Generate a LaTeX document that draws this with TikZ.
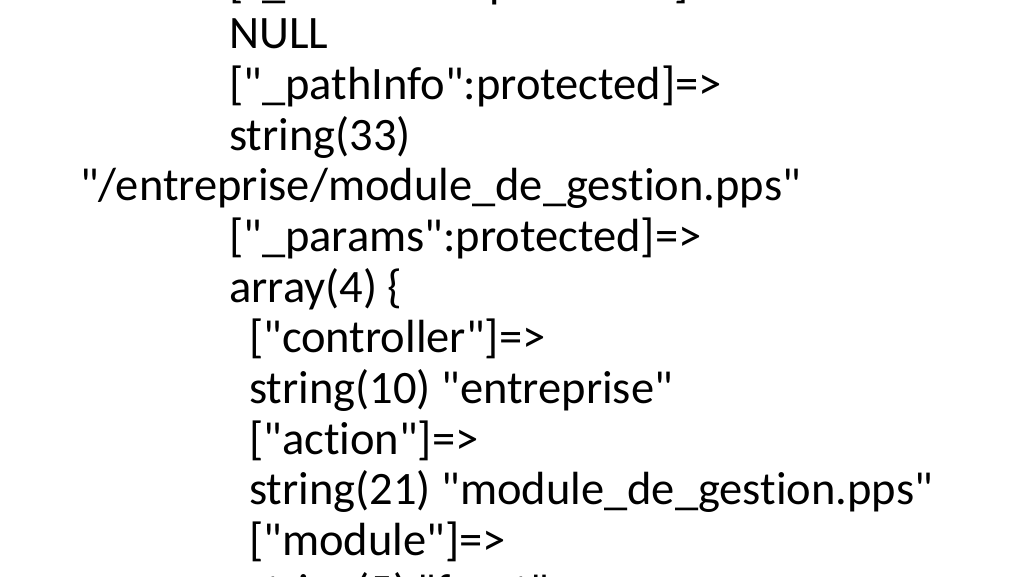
\documentclass[tikz,border=0pt]{standalone}
\usepackage{fontspec}
\setmainfont{Carlito}[Ligatures={TeXOff,NoCommon}]
\usepackage{tikz}
\usetikzlibrary{positioning}
\tikzset{%
	codeline/.style = {anchor=base west, inner sep=0pt, font=\fontsize{46.5}{50}\selectfont}, % one dump line
}

\begin{document}
\begin{tikzpicture}[x=1pt,y=1pt]
	\useasboundingbox (0,0) rectangle (1024,-576);
	\clip (0,0) rectangle (1024,-576);
	\fill[white] (0,0) rectangle (1024,-576);
	\node [codeline] (basepath) at (229,3) {["\_basePath":protected]=>};
	\node [codeline] (null) at (229,-48) {NULL};
	\node [codeline] (pathinfo) at (229,-99) {["\_pathInfo":protected]=>};
	\node [codeline] (strpath) at (229,-150) {string(33)};
	\node [codeline] (pathval) at (80,-200) {"/entreprise/module\_de\_gestion.pps"};
	\node [codeline] (params) at (229,-251) {["\_params":protected]=>};
	\node [codeline] (arr) at (229,-302) {array(4) \{};
	\node [codeline] (ctrl) at (249,-352) {["controller"]=>};
	\node [codeline] (strctrl) at (249,-403) {string(10) "entreprise"};
	\node [codeline] (action) at (249,-454) {["action"]=>};
	\node [codeline] (straction) at (249,-504) {string(21) "module\_de\_gestion.pps"};
	\node [codeline] (module) at (249,-555) {["module"]=>};
	\node [codeline] (strmodule) at (249,-606) {string(5) "front"};
\end{tikzpicture}
\end{document}
